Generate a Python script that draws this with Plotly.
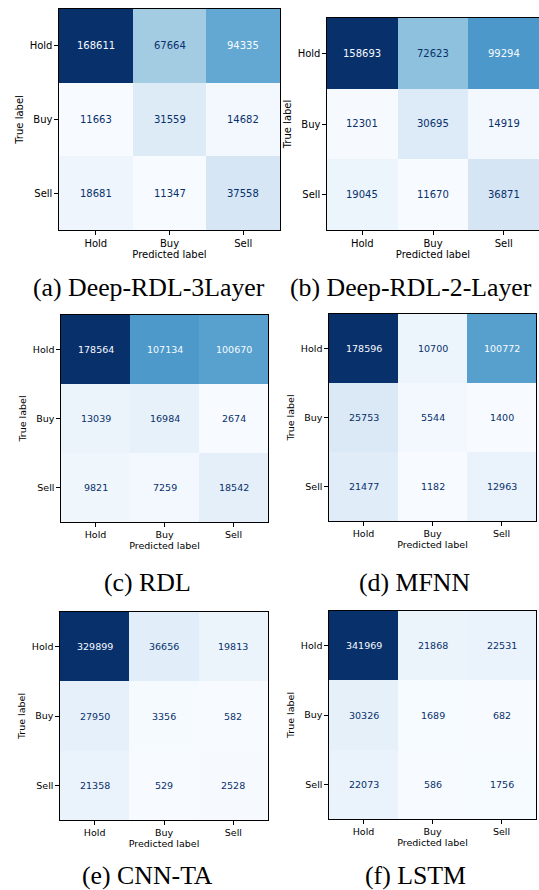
import plotly.graph_objects as go

# Class labels (predicted on x, true on y)
labels = ["Hold", "Buy", "Sell"]

# Confusion matrices, rows = true label, columns = predicted label
cm_deep_rdl_3 = [[168611, 67664, 94335],
                 [11663, 31559, 14682],
                 [18681, 11347, 37558]]
cm_deep_rdl_2 = [[158693, 72623, 99294],
                 [12301, 30695, 14919],
                 [19045, 11670, 36871]]
cm_rdl = [[178564, 107134, 100670],
          [13039, 16984, 2674],
          [9821, 7259, 18542]]
cm_mfnn = [[178596, 10700, 100772],
           [25753, 5544, 1400],
           [21477, 1182, 12963]]
cm_cnn_ta = [[329899, 36656, 19813],
             [27950, 3356, 582],
             [21358, 529, 2528]]
cm_lstm = [[341969, 21868, 22531],
           [30326, 1689, 682],
           [22073, 586, 1756]]

captions = ["(a) Deep-RDL-3Layer", "(b) Deep-RDL-2-Layer", "(c) RDL",
            "(d) MFNN", "(e) CNN-TA", "(f) LSTM"]
matrices = [cm_deep_rdl_3, cm_deep_rdl_2, cm_rdl, cm_mfnn, cm_cnn_ta, cm_lstm]

W, H = 539, 890

# matplotlib "Blues"
blues = ["#f7fbff", "#deebf7", "#c6dbef", "#9ecae1", "#6baed6",
         "#4292c6", "#2171b5", "#08519c", "#08306b"]
colorscale = [[i / (len(blues) - 1), c] for i, c in enumerate(blues)]

# panel boxes in pixels: (left, top, right, bottom)
boxes = [(59, 9, 280, 230), (327, 18, 539, 230),
         (61, 315, 268, 522), (329, 314, 536, 521),
         (60, 612, 268, 820), (329, 611, 536, 819)]
font_sizes = [10, 10, 9.5, 9.5, 9.5, 9.5]

# caption placement: (x px, y px, anchor)
cap_pos = [(149, 287, "center"), (289, 287, "left"),
           (147.5, 582, "center"), (414.5, 582, "center"),
           (147.5, 875, "center"), (415, 875, "center")]
cap_size = 25.8

fig = go.Figure()
annotations = []
layout = {}

for k, (cm, box, fs) in enumerate(zip(matrices, boxes, font_sizes)):
    n = k + 1
    xa = "x" if n == 1 else f"x{n}"
    ya = "y" if n == 1 else f"y{n}"
    flat = [v for row in cm for v in row]
    vmin, vmax = min(flat), max(flat)
    fig.add_trace(go.Heatmap(
        z=cm, x=labels, y=labels, xaxis=xa, yaxis=ya,
        colorscale=colorscale, zmin=vmin, zmax=vmax,
        showscale=False, hoverinfo="z", xgap=0, ygap=0,
    ))
    thresh = (vmax + vmin) / 2.0
    for i, row in enumerate(cm):
        for j, v in enumerate(row):
            annotations.append(dict(
                x=labels[j], y=labels[i], xref=xa, yref=ya,
                text=str(v), showarrow=False,
                font=dict(family="DejaVu Sans", size=fs,
                          color=blues[-1] if v < thresh else blues[0]),
            ))
    l, t, r, b = box
    axis_common = dict(
        showline=True, mirror=True, linecolor="black", linewidth=1.2,
        ticks="outside", ticklen=3.5, tickwidth=1, tickcolor="black",
        showgrid=False, zeroline=False, fixedrange=True,
        tickfont=dict(family="DejaVu Sans", size=fs, color="black"),
    )
    layout["xaxis" if n == 1 else f"xaxis{n}"] = dict(
        axis_common, domain=[l / W, r / W], anchor=ya,
        title=dict(text="Predicted label", standoff=3,
                   font=dict(family="DejaVu Sans", size=fs, color="black")),
    )
    layout["yaxis" if n == 1 else f"yaxis{n}"] = dict(
        axis_common, domain=[1 - b / H, 1 - t / H], anchor=xa,
        autorange="reversed",
        title=dict(text="True label", standoff=4,
                   font=dict(family="DejaVu Sans", size=fs, color="black")),
    )

for cap, (cx, cy, anchor) in zip(captions, cap_pos):
    annotations.append(dict(
        x=cx / W, y=1 - cy / H, xref="paper", yref="paper",
        xanchor=anchor, yanchor="middle", text=cap, showarrow=False,
        borderpad=0,
        font=dict(family="Liberation Serif", size=cap_size, color="black"),
    ))

fig.update_layout(
    width=W, height=H, margin=dict(l=0, r=0, t=0, b=0),
    paper_bgcolor="white", plot_bgcolor="white",
    showlegend=False, annotations=annotations, **layout,
)

fig.write_html("out.html")
